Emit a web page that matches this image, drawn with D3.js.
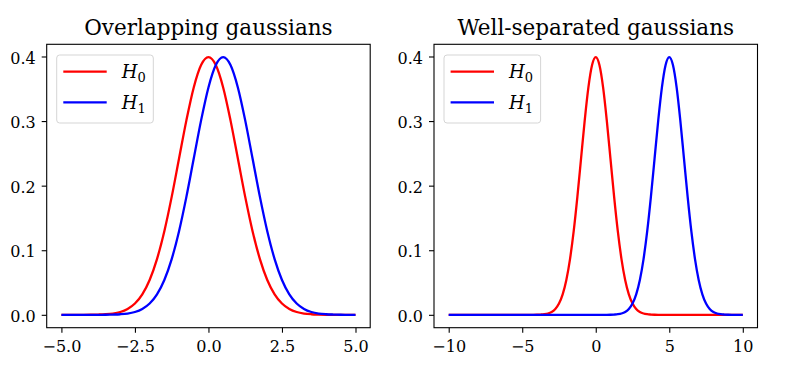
<!DOCTYPE html>
<meta charset="utf-8">
<style>
    body { margin: 0; background: #fff; }
    svg { font-family: "DejaVu Serif", serif; }
    .tick line { stroke: #000; stroke-width: 1.1px; }
    .domain { display: none; }
</style>
<body>
<script src="https://d3js.org/d3.v7.min.js"></script>
<script>
    // sample grid + densities
    const xLeft = [-5, -4.75, -4.5, -4.25, -4, -3.75, -3.5, -3.25, -3, -2.75, -2.5, -2.25, -2, -1.75, -1.5, -1.25, -1, -0.75, -0.5, -0.25,
        0, 0.25, 0.5, 0.75, 1, 1.25, 1.5, 1.75, 2, 2.25, 2.5, 2.75, 3, 3.25, 3.5, 3.75, 4, 4.25, 4.5, 4.75, 5];

    const h0Left = [0, 0, 0, 0, 0.0001, 0.0004, 0.0009, 0.0020, 0.0044, 0.0091, 0.0175, 0.0317, 0.0540, 0.0863, 0.1295, 0.1826, 0.2420, 0.3011, 0.3521, 0.3867,
        0.3989, 0.3867, 0.3521, 0.3011, 0.2420, 0.1826, 0.1295, 0.0863, 0.0540, 0.0317, 0.0175, 0.0091, 0.0044, 0.0020, 0.0009, 0.0004, 0.0001, 0, 0, 0, 0];

    const h1Left = [0, 0, 0, 0, 0, 0, 0.0001, 0.0004, 0.0009, 0.0020, 0.0044, 0.0091, 0.0175, 0.0317, 0.0540, 0.0863, 0.1295, 0.1826, 0.2420, 0.3011,
        0.3521, 0.3867, 0.3989, 0.3867, 0.3521, 0.3011, 0.2420, 0.1826, 0.1295, 0.0863, 0.0540, 0.0317, 0.0175, 0.0091, 0.0044, 0.0020, 0.0009, 0.0004, 0.0001, 0, 0];

    const xRight = [-10, -9.75, -9.5, -9.25, -9, -8.75, -8.5, -8.25, -8, -7.75, -7.5, -7.25, -7, -6.75, -6.5, -6.25, -6, -5.75, -5.5, -5.25,
        -5, -4.75, -4.5, -4.25, -4, -3.75, -3.5, -3.25, -3, -2.75, -2.5, -2.25, -2, -1.75, -1.5, -1.25, -1, -0.75, -0.5, -0.25,
        0, 0.25, 0.5, 0.75, 1, 1.25, 1.5, 1.75, 2, 2.25, 2.5, 2.75, 3, 3.25, 3.5, 3.75, 4, 4.25, 4.5, 4.75,
        5, 5.25, 5.5, 5.75, 6, 6.25, 6.5, 6.75, 7, 7.25, 7.5, 7.75, 8, 8.25, 8.5, 8.75, 9, 9.25, 9.5, 9.75, 10];

    const h0Right = [0, 0, 0, 0, 0, 0, 0, 0, 0, 0, 0, 0, 0, 0, 0, 0, 0, 0, 0, 0,
        0, 0, 0, 0, 0.0001, 0.0004, 0.0009, 0.0020, 0.0044, 0.0091, 0.0175, 0.0317, 0.0540, 0.0863, 0.1295, 0.1826, 0.2420, 0.3011, 0.3521, 0.3867,
        0.3989, 0.3867, 0.3521, 0.3011, 0.2420, 0.1826, 0.1295, 0.0863, 0.0540, 0.0317, 0.0175, 0.0091, 0.0044, 0.0020, 0.0009, 0.0004, 0.0001, 0, 0, 0,
        0, 0, 0, 0, 0, 0, 0, 0, 0, 0, 0, 0, 0, 0, 0, 0, 0, 0, 0, 0, 0];

    const h1Right = [0, 0, 0, 0, 0, 0, 0, 0, 0, 0, 0, 0, 0, 0, 0, 0, 0, 0, 0, 0,
        0, 0, 0, 0, 0, 0, 0, 0, 0, 0, 0, 0, 0, 0, 0, 0, 0, 0, 0, 0,
        0, 0, 0, 0, 0.0001, 0.0004, 0.0009, 0.0020, 0.0044, 0.0091, 0.0175, 0.0317, 0.0540, 0.0863, 0.1295, 0.1826, 0.2420, 0.3011, 0.3521, 0.3867,
        0.3989, 0.3867, 0.3521, 0.3011, 0.2420, 0.1826, 0.1295, 0.0863, 0.0540, 0.0317, 0.0175, 0.0091, 0.0044, 0.0020, 0.0009, 0.0004, 0.0001, 0, 0, 0, 0];

    const xTicksLeft = [-5, -2.5, 0, 2.5, 5];
    const xTicksRight = [-10, -5, 0, 5, 10];
    const yTicks = [0, 0.1, 0.2, 0.3, 0.4];
    const seriesNames = ["0", "1"];
    const colors = ["#ff0000", "#0000ff"];

    const panels = [
        {title: "Overlapping gaussians", left: 46.7, xs: xLeft, ys: [h0Left, h1Left], xDomain: [-5.5, 5.5], xTicks: xTicksLeft, fmt: d3.format(".1f")},
        {title: "Well-separated gaussians", left: 434, xs: xRight, ys: [h0Right, h1Right], xDomain: [-11, 11], xTicks: xTicksRight, fmt: d3.format("d")}
    ];

    const plotTop = 44.3, plotW = 323.5, plotH = 283.4;
    const minus = s => s.replace("-", "\u2212");

    const svg = d3.select("body").append("svg")
        .attr("width", 798)
        .attr("height", 373);

    panels.forEach(p => {
        const g = svg.append("g").attr("transform", `translate(${p.left},${plotTop})`);

        const x = d3.scaleLinear().domain(p.xDomain).range([0, plotW]);
        const y = d3.scaleLinear().domain([-0.01995, 0.41888]).range([plotH, 0]);

        const gx = g.append("g")
            .attr("transform", `translate(0,${plotH})`)
            .call(d3.axisBottom(x).tickValues(p.xTicks).tickSize(5).tickPadding(5).tickFormat(d => minus(p.fmt(d))))
            .attr("font-family", null)
            .attr("font-size", 16);
        gx.selectAll("text").attr("dy", "0.9em").attr("fill", "#000");

        const gy = g.append("g")
            .call(d3.axisLeft(y).tickValues(yTicks).tickSize(5).tickPadding(6).tickFormat(d3.format(".1f")))
            .attr("font-family", null)
            .attr("font-size", 16);
        gy.selectAll("text").attr("dy", "0.42em").attr("fill", "#000");

        const line = d3.line()
            .x(d => x(d[0]))
            .y(d => y(d[1]))
            .curve(d3.curveMonotoneX);

        p.ys.forEach((vals, i) => {
            g.append("path")
                .datum(p.xs.map((v, j) => [v, vals[j]]))
                .attr("fill", "none")
                .attr("stroke", colors[i])
                .attr("stroke-width", 2.3)
                .attr("d", line);
        });

        // frame
        g.append("rect")
            .attr("width", plotW)
            .attr("height", plotH)
            .attr("fill", "none")
            .attr("stroke", "#000")
            .attr("stroke-width", 1.1);

        g.append("text")
            .attr("x", plotW / 2)
            .attr("y", -9)
            .attr("text-anchor", "middle")
            .attr("font-size", 21.5)
            .text(p.title);

        // legend
        const lg = g.append("g").attr("transform", "translate(10,10.7)");
        lg.append("rect")
            .attr("width", 96.6)
            .attr("height", 68)
            .attr("rx", 3)
            .attr("fill", "#fff")
            .attr("fill-opacity", 0.8)
            .attr("stroke", "#d5d5d5")
            .attr("stroke-width", 1);

        seriesNames.forEach((s, i) => {
            const ly = 16.7 + i * 30.6;
            lg.append("line")
                .attr("x1", 6.6).attr("x2", 50)
                .attr("y1", ly).attr("y2", ly)
                .attr("stroke", colors[i])
                .attr("stroke-width", 2.3);
            const t = lg.append("text")
                .attr("x", 65)
                .attr("y", ly + 6.5)
                .attr("font-size", 18);
            t.append("tspan").attr("font-style", "italic").text("H");
            t.append("tspan").attr("font-size", 13).attr("dy", 4).text(s);
        });
    });
</script>
